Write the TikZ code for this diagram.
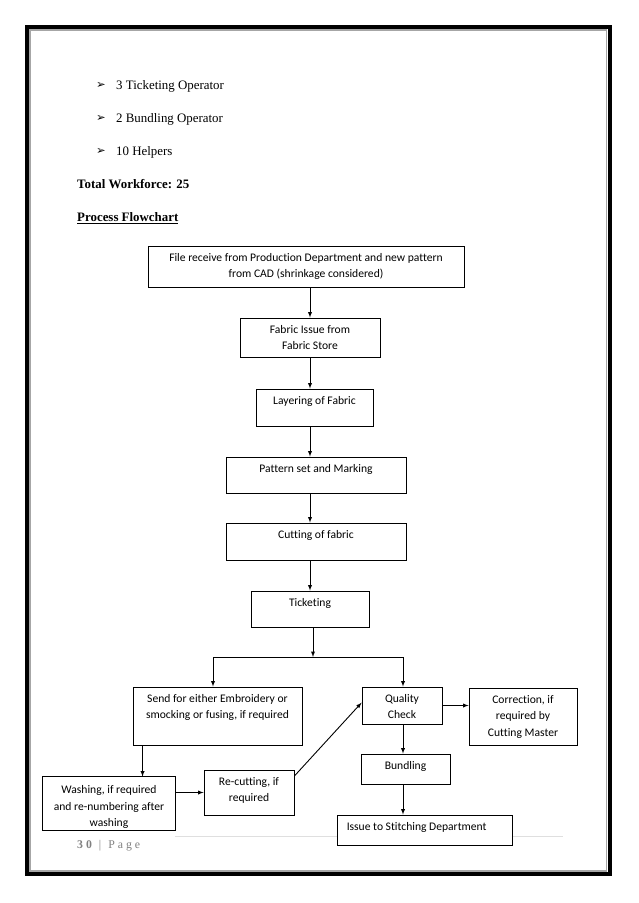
\documentclass[tikz,border=0pt]{standalone}
\usepackage{fontspec}
\setmainfont{Liberation Serif}
\newfontfamily\flowfont{Carlito}[Ligatures=NoCommon]
\newfontfamily\dingfont{DejaVu Sans}
\usetikzlibrary{positioning,arrows}

\begin{document}
\begin{tikzpicture}[x=1pt,y=-1pt,
stage/.style={draw,fill=white,line width=0.9pt,inner sep=0pt},
boxsize/.style 2 args={minimum width=#1pt,minimum height=#2pt},
boxtext/.style={anchor=north,align=center,inner sep=0pt,yshift=-7.5pt,
  font=\flowfont\fontsize{11.6}{16.5}\selectfont},
arr/.style={->,>=latex,line width=0.9pt},
page/.style={anchor=base west,inner sep=0pt,font=\fontsize{12.9}{15}\selectfont},
bullet/.style={anchor=west,inner sep=0pt,font=\dingfont\fontsize{11.5}{12}\selectfont}]
\useasboundingbox (0,0) rectangle (638,903);

% page frame
\draw[line width=4pt] (27,27) rectangle (609.5,874);
\draw[gray!70,line width=1.5pt] (30,30) rectangle (606.5,871);

% text above the chart
\node[bullet] (b1) at (96,85) {➢};
\node[page] (t1) at (116,89.5) {3 Ticketing Operator};
\node[bullet] (b2) at (96,118) {➢};
\node[page] (t2) at (116,122.5) {2 Bundling Operator};
\node[bullet] (b3) at (96,151) {➢};
\node[page] (t3) at (116,155.5) {10 Helpers};
\node[page] (total) at (77,188.5) {\bfseries Total Workforce: 25};
\node[page] (title) at (77,221.5) {\bfseries\underline{Process Flowchart}};

% footer
\draw[gray!25,line width=1pt] (175,836) -- (563,836);
\node[page,font=\fontsize{11.8}{14}\selectfont,text=gray] (pg) at (77,848) {{\bfseries 3 0}\hspace{7pt}|\hspace{7pt}P a g e};

% main column
\node[stage,boxsize={316}{41},label={[boxtext]north:{File receive from Production Department and new pattern\\from CAD (shrinkage considered)}}] (file) at (306,266.5) {};
\node[stage,boxsize={140}{39},label={[boxtext]north:{Fabric Issue from\\Fabric Store}}] (issue) at (310,337.5) {};
\node[stage,boxsize={117}{37},label={[boxtext]north:{Layering of Fabric}}] (layer) at (314.5,407.5) {};
\node[stage,boxsize={180}{36},label={[boxtext]north:{Pattern set and Marking}}] (pattern) at (316,475) {};
\node[stage,boxsize={180}{37},label={[boxtext]north:{Cutting of fabric}}] (cutting) at (316,541.5) {};
\node[stage,boxsize={118}{36},label={[boxtext]north:{Ticketing}}] (ticket) at (310,609) {};

% branches
\node[stage,boxsize={169}{58},label={[boxtext]north:{Send for either Embroidery or\\smocking or fusing, if required}}] (send) at (217.5,716) {};
\node[stage,boxsize={80}{37},label={[boxtext]north:{Quality\\Check}}] (quality) at (402,705.5) {};
\node[stage,boxsize={108}{57},label={[boxtext]north:{Correction, if\\required by\\Cutting Master}}] (correct) at (523,716.5) {};
\node[stage,boxsize={89}{30},label={[boxtext]north:{Bundling}}] (bundling) at (405.5,769) {};
\node[stage,boxsize={175}{30},label={[boxtext,anchor=north west,xshift=10pt,align=left]north west:{Issue to Stitching Department}}] (stitch) at (424.5,830) {};
\begin{scope}
\clip (42,776) rectangle (176,827);
\node[stage,draw=none,boxsize={132}{53},label={[boxtext,yshift=-1.5pt]north:{Washing, if required\\and re-numbering after\\washing}}] (wash) at (109,803.5) {};
\end{scope}
\draw[line width=0.9pt] (wash.south west) rectangle (wash.north east);
\node[stage,boxsize={90}{45},label={[boxtext]north:{Re-cutting, if\\required}}] (recut) at (249,792.5) {};

% connectors
\draw[arr] (file.south -| issue) -- (issue.north);
\draw[arr] (issue.south) -- (issue.south |- layer.north);
\draw[arr] (layer.south -| issue) -- (pattern.north -| issue);
\draw[arr] (pattern.south -| issue) -- (cutting.north -| issue);
\draw[arr] (cutting.south -| issue) -- (ticket.north -| issue);
\coordinate (split) at (313,657);
\coordinate (lft) at (213,657);
\coordinate (rgt) at (403,657);
\draw[arr] (ticket.south -| split) -- (split);
\draw[line width=0.9pt] (lft) -- (rgt);
\draw[arr] (lft) -- (lft |- send.north);
\draw[arr] (rgt) -- (rgt |- quality.north);
\draw[arr] (quality.east) -- (quality.east -| correct.west);
\draw[arr] (quality.south -| rgt) -- (bundling.north -| rgt);
\draw[arr] (bundling.south -| rgt) -- (stitch.north -| rgt);
\path (send.south west) ++(10,0) coordinate (drop);
\draw[arr] (drop) -- (drop |- wash.north);
\draw[arr] (recut.west -| wash.east) -- (recut.west);
\draw[arr] (recut.20) -- (quality.176);
\end{tikzpicture}
\end{document}
